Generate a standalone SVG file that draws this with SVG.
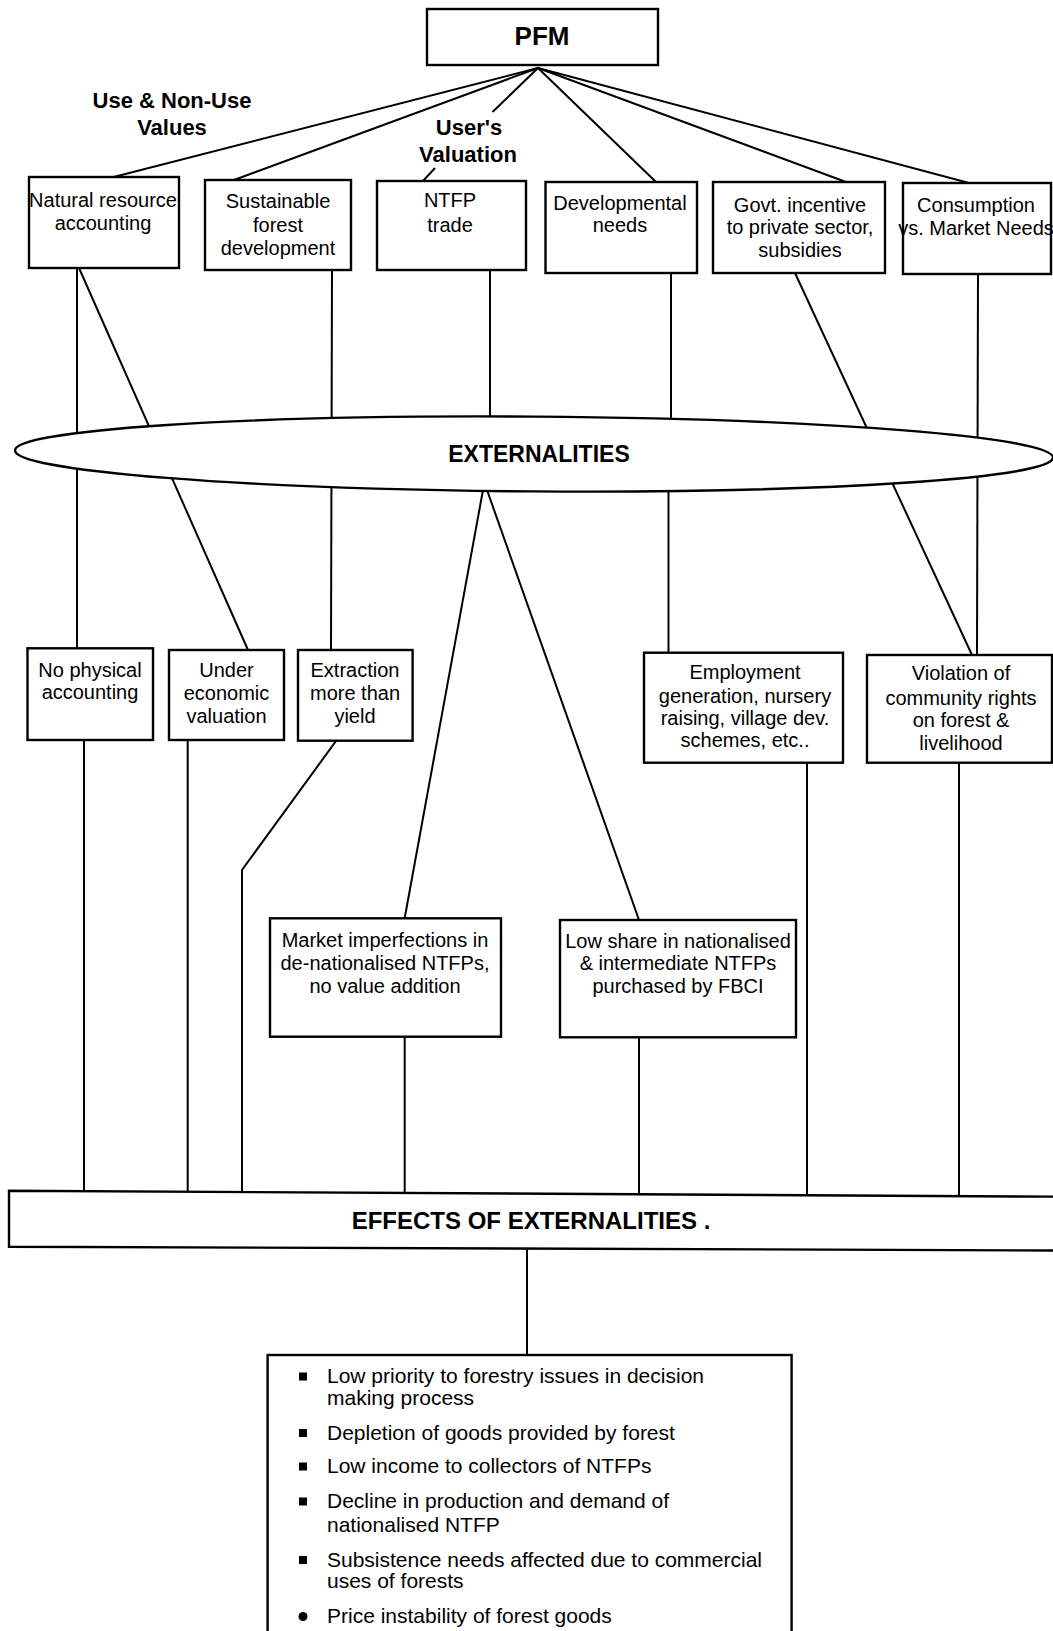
<svg xmlns="http://www.w3.org/2000/svg" width="1053" height="1631" viewBox="0 0 1053 1631">
<style>
.box{fill:#fff;stroke:#000;stroke-width:2.4}
.ln{fill:none;stroke:#000;stroke-width:2}
.t{font-family:"Liberation Sans",Arial,Helvetica,sans-serif;font-size:20px;fill:#000;text-anchor:middle}
.lb{font-family:"Liberation Sans",Arial,Helvetica,sans-serif;font-size:22px;font-weight:bold;fill:#000;text-anchor:middle}
.hd{font-family:"Liberation Sans",Arial,Helvetica,sans-serif;font-weight:bold;fill:#000;text-anchor:middle}
.bl{font-family:"Liberation Sans",Arial,Helvetica,sans-serif;font-size:21px;fill:#000}
</style>
<rect width="1053" height="1631" fill="#fff"/>

<g id="labels">
  <text class="lb" x="172" y="108">Use &amp; Non-Use</text>
  <text class="lb" x="172" y="135">Values</text>
  <text class="lb" x="469" y="135">User's</text>
  <text class="lb" x="468" y="162">Valuation</text>
</g>

<g id="connectors" class="ln">
  <path d="M538 68 L113.7 177"/>
  <path d="M538 68 L234 180"/>
  <path d="M538 68 L492.5 112"/>
  <path d="M435 168 L423 181"/>
  <path d="M538 68 L656 182"/>
  <path d="M538 68 L846 182"/>
  <path d="M538 68 L969 183"/>
  <path d="M77 268 L77 648"/>
  <path d="M79 268 L248 650"/>
  <path d="M332 270 L331 650"/>
  <path d="M490 270 L490 420"/>
  <path d="M671 273 L671 425"/>
  <path d="M668.5 485 L668.5 653"/>
  <path d="M795 273 L972 655"/>
  <path d="M978 275 L977 655"/>
  <path d="M483 490 L404.7 918"/>
  <path d="M487 490 L639 920"/>
  <path d="M84 740 L84 1192"/>
  <path d="M187.7 740 L187.7 1192"/>
  <path d="M336 741 L242 870 L242 1193"/>
  <path d="M404.7 1037 L404.7 1194"/>
  <path d="M639 1037 L639 1195"/>
  <path d="M807 763 L807 1196"/>
  <path d="M959 763 L959 1197"/>
  <path d="M527 1247 L527 1356"/>
</g>

<g id="pfm">
  <rect class="box" x="427" y="9" width="231" height="56"/>
  <text class="hd" x="542" y="45" font-size="26">PFM</text>
</g>

<g id="natural-resource-accounting">
  <rect class="box" x="29" y="177" width="150" height="91"/>
  <text class="t" x="103" y="207">Natural resource</text>
  <text class="t" x="103" y="230">accounting</text>
</g>
<g id="sustainable-forest-development">
  <rect class="box" x="205" y="180" width="146" height="90"/>
  <text class="t" x="278" y="208">Sustainable</text>
  <text class="t" x="278" y="232">forest</text>
  <text class="t" x="278" y="255">development</text>
</g>
<g id="ntfp-trade">
  <rect class="box" x="377" y="181" width="149" height="89"/>
  <text class="t" x="450" y="207">NTFP</text>
  <text class="t" x="450" y="232">trade</text>
</g>
<g id="developmental-needs">
  <rect class="box" x="545.5" y="182" width="151.5" height="91"/>
  <text class="t" x="620" y="210">Developmental</text>
  <text class="t" x="620" y="232">needs</text>
</g>
<g id="govt-incentive">
  <rect class="box" x="713" y="182" width="172" height="91"/>
  <text class="t" x="800" y="212">Govt. incentive</text>
  <text class="t" x="800" y="234">to private sector,</text>
  <text class="t" x="800" y="257">subsidies</text>
</g>
<g id="consumption">
  <rect class="box" x="903" y="183" width="148" height="91"/>
  <text class="t" x="976" y="212">Consumption</text>
  <text class="t" x="976" y="235">vs. Market Needs</text>
</g>

<g id="externalities">
  <ellipse class="box" cx="534" cy="454" rx="519" ry="37.4" transform="rotate(0.4 534 454)"/>
  <text class="hd" x="539" y="462" font-size="23">EXTERNALITIES</text>
</g>

<g id="no-physical-accounting">
  <rect class="box" x="27.5" y="648.3" width="125.5" height="91.7"/>
  <text class="t" x="90" y="677">No physical</text>
  <text class="t" x="90" y="699">accounting</text>
</g>
<g id="under-economic-valuation">
  <rect class="box" x="169" y="650" width="115" height="90"/>
  <text class="t" x="226.5" y="677">Under</text>
  <text class="t" x="226.5" y="700">economic</text>
  <text class="t" x="226.5" y="723">valuation</text>
</g>
<g id="extraction-more-than-yield">
  <rect class="box" x="298" y="650" width="114.6" height="90.7"/>
  <text class="t" x="355" y="677">Extraction</text>
  <text class="t" x="355" y="700">more than</text>
  <text class="t" x="355" y="723">yield</text>
</g>
<g id="employment-generation">
  <rect class="box" x="644" y="652.7" width="199" height="110"/>
  <text class="t" x="745" y="678.5">Employment</text>
  <text class="t" x="745" y="703">generation, nursery</text>
  <text class="t" x="745" y="725">raising, village dev.</text>
  <text class="t" x="745" y="747">schemes, etc..</text>
</g>
<g id="violation-of-community-rights">
  <rect class="box" x="867" y="655" width="185" height="107.7"/>
  <text class="t" x="961" y="680">Violation of</text>
  <text class="t" x="961" y="705">community rights</text>
  <text class="t" x="961" y="727">on forest &amp;</text>
  <text class="t" x="961" y="750">livelihood</text>
</g>
<g id="market-imperfections">
  <rect class="box" x="270" y="918.3" width="231" height="118.4"/>
  <text class="t" x="385" y="947">Market imperfections in</text>
  <text class="t" x="385" y="970">de-nationalised NTFPs,</text>
  <text class="t" x="385" y="993">no value addition</text>
</g>
<g id="low-share">
  <rect class="box" x="560" y="920" width="236" height="117.3"/>
  <text class="t" x="678" y="948">Low share in nationalised</text>
  <text class="t" x="678" y="970">&amp; intermediate NTFPs</text>
  <text class="t" x="678" y="993">purchased by FBCI</text>
</g>

<g id="effects-of-externalities">
  <path class="box" d="M1062 1196.7 L9 1190.7 L9 1246.7 L1062 1250.5"/>
  <text class="hd" x="531" y="1229" font-size="24">EFFECTS OF EXTERNALITIES .</text>
</g>

<g id="effects-list">
  <rect class="box" x="267.6" y="1355" width="524" height="300"/>
  <rect x="299" y="1372.5" width="8" height="8"/>
  <rect x="299" y="1429" width="8" height="8"/>
  <rect x="299" y="1462.5" width="8" height="8"/>
  <rect x="299" y="1497.5" width="8" height="8"/>
  <rect x="299" y="1556" width="8" height="8"/>
  <circle cx="303" cy="1616.5" r="4.5"/>
  <text class="bl" x="327" y="1383.3">Low priority to forestry issues in decision</text>
  <text class="bl" x="327" y="1405">making process</text>
  <text class="bl" x="327" y="1440">Depletion of goods provided by forest</text>
  <text class="bl" x="327" y="1473.3">Low income to collectors of NTFPs</text>
  <text class="bl" x="327" y="1508.3">Decline in production and demand of</text>
  <text class="bl" x="327" y="1531.7">nationalised NTFP</text>
  <text class="bl" x="327" y="1566.7">Subsistence needs affected due to commercial</text>
  <text class="bl" x="327" y="1588.3">uses of forests</text>
  <text class="bl" x="327" y="1623.3">Price instability of forest goods</text>
</g>
</svg>
